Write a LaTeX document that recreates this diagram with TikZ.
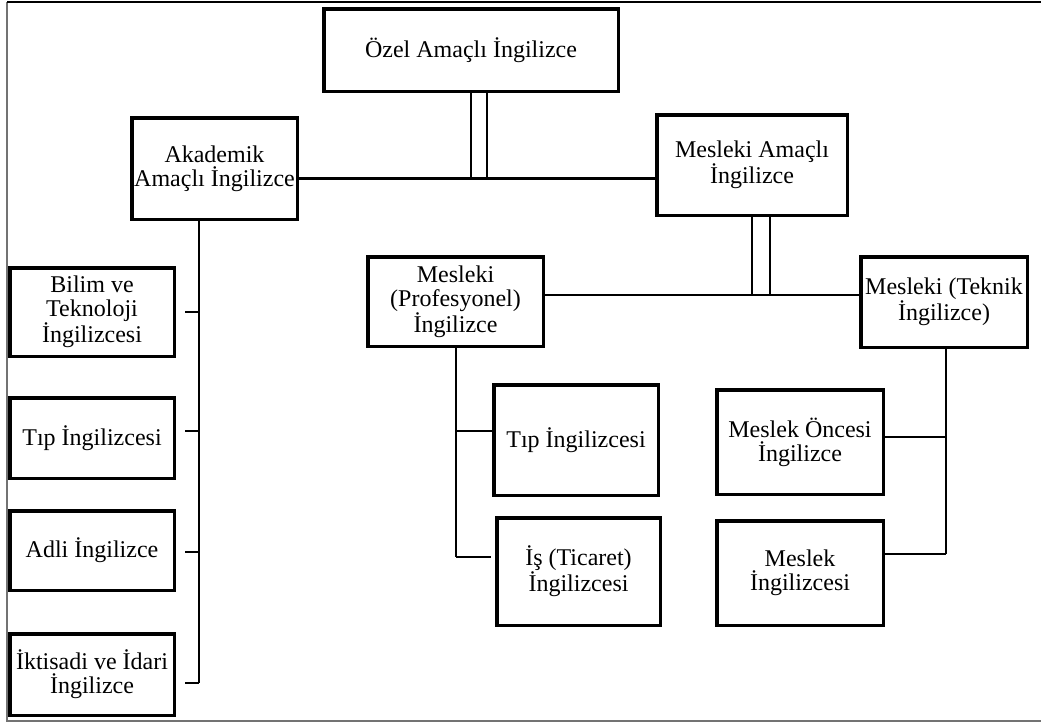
\documentclass[tikz,border=0pt]{standalone}
\usepackage{fontspec}
\setmainfont{Liberation Serif}
\usetikzlibrary{calc}
\tikzset{
  bx/.style={draw, line width=3.5pt, inner sep=0pt, align=center,
    font=\fontsize{24}{24}\selectfont},
  conn/.style={line width=2.2pt},
  dconn/.style={line width=2.5pt},
  framel/.style={line width=1.5pt}
}
\newcommand\bxnode[6]{%
  \node[bx, minimum width={(#4-#2-3.5)*1pt}, minimum height={(#5-#3-3.5)*1pt}]
    (#1) at ({(#2+#4)/2},{(#3+#5)/2}) {#6};}
\begin{document}
\begin{tikzpicture}[x=1pt,y=-1pt]
\useasboundingbox (0,0) rectangle (1041,723);
% frame
\draw[framel, black!55] (1045,721) -- (7,721) -- (7,2);
\draw[framel, black] (7,2) -- (1045,2);
% boxes
\bxnode{ozel}{322}{7}{620}{93}{Özel Amaçlı İngilizce}
\bxnode{akad}{130}{116}{299}{221}{Akademik\\Amaçlı İngilizce}
\bxnode{mam}{655}{113}{849}{217}{Mesleki Amaçlı\\İngilizce}
\bxnode{bilim}{8}{266}{176}{358}{Bilim ve\\Teknoloji\\İngilizcesi}
\bxnode{tipa}{8}{396}{176}{480}{Tıp İngilizcesi}
\bxnode{adli}{8}{509}{176}{592}{Adli İngilizce}
\bxnode{ikt}{8}{632}{176}{717}{İktisadi ve İdari\\İngilizce}
\bxnode{prof}{366}{255}{545}{348}{Mesleki\\(Profesyonel)\\İngilizce}
\bxnode{tek}{859}{255}{1029}{349}{Mesleki (Teknik\\İngilizce)}
\bxnode{tipb}{492}{383}{660}{497}{Tıp İngilizcesi}
\bxnode{is}{495}{516}{662}{627}{İş (Ticaret)\\İngilizcesi}
\bxnode{once}{715}{388}{885}{496}{Meslek Öncesi\\İngilizce}
\bxnode{mes}{715}{519}{885}{627}{Meslek\\İngilizcesi}
% junction coordinates
\coordinate (h1) at (479,178.5);
\coordinate (d1a) at (471,179);
\coordinate (d1b) at (487,179);
\coordinate (h2) at (761,295);
\coordinate (d2a) at (752,295);
\coordinate (d2b) at (770,295);
\coordinate (sL) at (199,683);
\coordinate (kL1) at (199,312);
\coordinate (kL2) at (199,431);
\coordinate (kL3) at (199,552);
\coordinate (sP) at (456,557);
\coordinate (kP1) at (456,431);
\coordinate (sT) at (946,554);
\coordinate (kT1) at (946,437);
% top level
\draw[conn] (akad.east |- h1) -- (mam.west |- h1);
\draw[dconn] (ozel.south -| d1a) -- (d1a) -- (d1b) -- (ozel.south -| d1b);
% academic branch
\draw[conn] (akad.south -| sL) -- (sL);
\draw[conn] ($(bilim.east |- kL1)+(9,0)$) -- (kL1);
\draw[conn] ($(tipa.east |- kL2)+(9,0)$) -- (kL2);
\draw[conn] ($(adli.east |- kL3)+(9,0)$) -- (kL3);
\draw[conn] ($(ikt.east |- sL)+(9,0)$) -- (sL);
% occupational branch
\draw[conn] (prof.east |- h2) -- (tek.west |- h2);
\draw[dconn] (mam.south -| d2a) -- (d2a) -- (d2b) -- (mam.south -| d2b);
\draw[conn] (prof.south -| sP) -- (sP);
\draw[conn] (kP1) -- (tipb.west |- kP1);
\draw[conn] (sP) -- ($(is.west |- sP)+(-4,0)$);
\draw[conn] (tek.south -| sT) -- (sT);
\draw[conn] (kT1) -- (once.east |- kT1);
\draw[conn] (sT) -- (mes.east |- sT);
\end{tikzpicture}
\end{document}
